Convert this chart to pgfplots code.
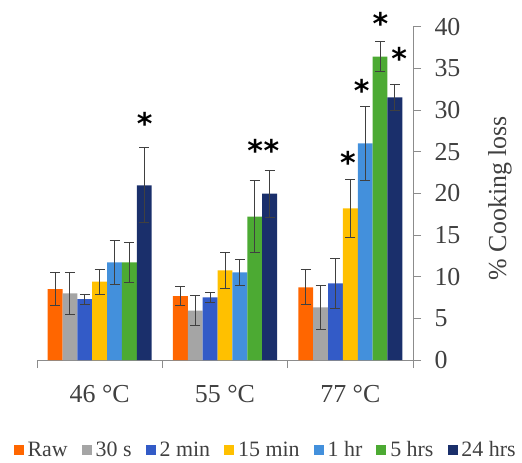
\documentclass[border=0pt]{standalone}
\usepackage{fontspec}
\setmainfont{Liberation Serif}
\newfontfamily\astfont{DejaVu Sans}
\usepackage{pgfplots}
\usepackage{pgfplotstable}
\pgfplotsset{compat=1.18}
\definecolor{cRaw}{HTML}{FF6600}
\definecolor{cS}{HTML}{A5A5A5}
\definecolor{cTwo}{HTML}{335BC7}
\definecolor{cFif}{HTML}{FFC000}
\definecolor{cOne}{HTML}{4390DC}
\definecolor{cFive}{HTML}{4CAA33}
\definecolor{cTwf}{HTML}{1A2F6B}
\definecolor{axc}{HTML}{8C8C8C}
\definecolor{txc}{HTML}{404040}
\definecolor{errc}{HTML}{404040}

% x = group position (0: 46 C, 1: 55 C, 2: 77 C) + bar offset
\pgfplotstableread{
x y e
-0.3558 8.52 2.0
0.6442 7.68 1.1
1.6442 8.72 2.1
}\tRaw
\pgfplotstableread{
x y e
-0.2372 8.0 2.5
0.7628 5.92 1.8
1.7628 6.32 2.6
}\tS
\pgfplotstableread{
x y e
-0.1186 7.32 0.6
0.8814 7.52 0.6
1.8814 9.2 3.0
}\tTwo
\pgfplotstableread{
x y e
0 9.4 1.5
1 10.76 2.2
2 18.2 3.5
}\tFif
\pgfplotstableread{
x y e
0.1186 11.72 2.6
1.1186 10.52 1.6
2.1186 26.0 4.4
}\tOne
\pgfplotstableread{
x y e
0.2372 11.72 2.4
1.2372 17.2 4.3
2.2372 36.4 1.8
}\tFive
\pgfplotstableread{
x y e
0.3558 20.96 4.5
1.3558 19.96 2.8
2.3558 31.52 1.6
}\tTwf

\pgfplotsset{
  mybar/.style={ybar, bar width=14.86bp, bar shift=0bp, draw=none,
    error bars/y dir=both, error bars/y explicit,
    error bars/error bar style={errc, line width=0.9bp},
    error bars/error mark options={errc, line width=0.9bp, mark size=5bp, rotate=90}},
}

\begin{document}
\begin{tikzpicture}
\path[use as bounding box] (-37bp,-103bp) rectangle (485bp,360bp);
\begin{axis}[
  at={(0,0)}, anchor=south west,
  scale only axis, width=376bp, height=333.33bp,
  xmin=-0.5, xmax=2.5, ymin=0, ymax=40,
  clip=false,
  axis x line*=bottom, axis y line*=right,
  axis line style={axc, line width=1bp},
  xtick={0,1,2}, xticklabels={46 °C,55 °C,77 °C},
  minor xtick={-0.5,0.5,1.5,2.5},
  ytick={0,5,...,40},
  tick align=outside,
  major tick length=8bp, minor tick length=8bp,
  major x tick style={draw=none},
  minor x tick style={axc, line width=1bp},
  y tick style={axc, line width=1bp},
  /pgf/number format/assume math mode=true,
  xticklabel style={font=\fontsize{26}{30}\selectfont, text=txc, anchor=base, yshift=-34bp},
  yticklabel style={font=\fontsize{26}{30}\selectfont, text=txc, anchor=west, xshift=10bp},
  ylabel={\% Cooking loss},
  ylabel style={font=\fontsize{26}{30}\selectfont, text=txc, at={(axis description cs:1.231,0.486)}, anchor=center, rotate=0},
  legend columns=-1,
  legend image code/.code={\fill[#1] (0bp,-5bp) rectangle (10bp,5bp);},
  legend style={draw=none, fill=none, font=\fontsize{22}{26}\selectfont, text=txc,
    at={(axis description cs:0.608,-0.27)}, anchor=center,
    /tikz/every odd column/.append style={column sep=2bp},
    /tikz/every even column/.append style={column sep=12bp}},
]
\addplot[mybar, fill=cRaw] table[x=x,y=y,y error=e]{\tRaw};
\addplot[mybar, fill=cS] table[x=x,y=y,y error=e]{\tS};
\addplot[mybar, fill=cTwo] table[x=x,y=y,y error=e]{\tTwo};
\addplot[mybar, fill=cFif] table[x=x,y=y,y error=e]{\tFif};
\addplot[mybar, fill=cOne] table[x=x,y=y,y error=e]{\tOne};
\addplot[mybar, fill=cFive] table[x=x,y=y,y error=e]{\tFive};
\addplot[mybar, fill=cTwf] table[x=x,y=y,y error=e]{\tTwf};
\legend{Raw,30 s,2 min,15 min,1 hr,5 hrs,24 hrs}
\addplot[forget plot, only marks, mark=text, text mark as node=true,
  text mark={\astfont\bfseries *},
  text mark style={anchor=center, font=\fontsize{30}{30}\selectfont, text=black, yshift=-7bp}]
  coordinates {(0.36,29.2) (1.24,26.0) (1.37,26.0) (1.98,24.5) (2.09,33.2) (2.24,41.2) (2.39,37.0)};
\end{axis}
\end{tikzpicture}
\end{document}
